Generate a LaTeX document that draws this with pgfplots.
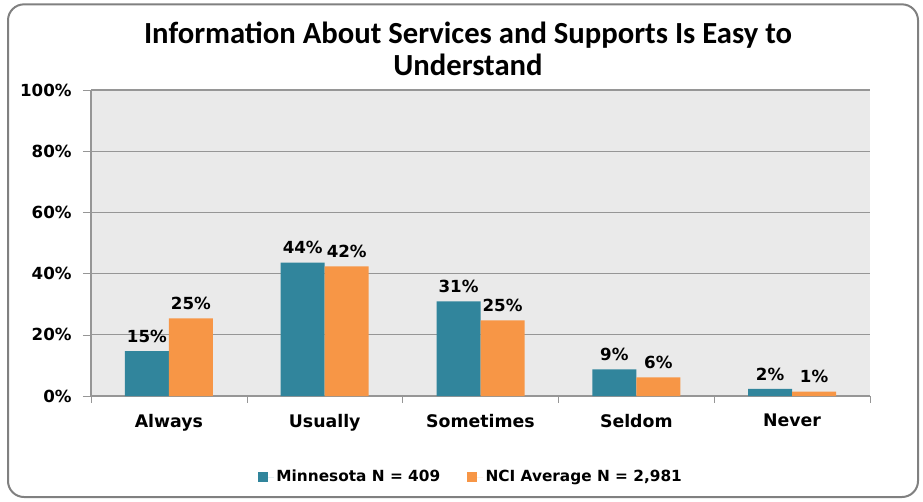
\documentclass[border=0pt]{standalone}
\usepackage{pgfplots}
\pgfplotsset{compat=1.18}
\usepackage{fontspec}
\setmainfont{DejaVu Sans}
\newfontfamily\titlefont{Carlito}
\definecolor{mnteal}{RGB}{49,133,156}
\definecolor{nciorange}{RGB}{247,150,70}
\definecolor{plotbg}{RGB}{234,234,234}
\definecolor{gridgray}{RGB}{150,150,150}

\begin{document}
\begin{tikzpicture}
  \useasboundingbox (0,0) rectangle (692.25pt,375.75pt);
  % outer frame
  \draw[draw=gray, line width=1.5pt, rounded corners=12pt] (6pt,3pt) rectangle (688.5pt,372.5pt);
  % title
  \node[align=center, font=\titlefont\bfseries\fontsize{23}{24}\selectfont]
    at (351pt,339pt) {Information About Services and Supports Is Easy to\\Understand};

  \begin{axis}[
    at={(68.25pt,78.75pt)}, anchor=south west,
    scale only axis,
    width=584.25pt, height=229.5pt,
    ybar=0pt,
    bar width=33pt,
    % x axis
    xmin=-0.5, xmax=4.5,
    xtick={0,1,2,3,4},
    xticklabels={Always, Usually, Sometimes, Seldom, Never},
    major x tick style={draw=none},
    minor xtick={-0.5,0.5,1.5,2.5,3.5,4.5},
    minor x tick style={draw=gridgray},
    minor tick length=5pt,
    xticklabel style={font=\bfseries\fontsize{13}{15}\selectfont, yshift=-4pt},
    % y axis
    ymin=0, ymax=100,
    ytick={0,20,40,60,80,100},
    yticklabel={\pgfmathprintnumber{\tick}\%},
    yticklabel style={font=\bfseries\fontsize{12.5}{15}\selectfont, xshift=-5pt},
    /pgf/number format/assume math mode=true,
    major y tick style={draw=gridgray},
    major tick length=6pt,
    tick align=outside,
    ymajorgrids,
    grid style={draw=gridgray, line width=0.8pt},
    axis x line*=bottom,
    axis y line*=left,
    axis line style={draw=gridgray, line width=0.8pt, -},
    axis background/.style={fill=plotbg},
    % labels on bars
    nodes near coords={\pgfmathprintnumber[fixed,precision=0]{\pgfplotspointmeta}\%},
    every node near coord/.append style={font=\bfseries\fontsize{12.5}{15}\selectfont, text=black, yshift=3pt},
    % legend
    legend columns=2,
    legend style={at={(0.488,-0.265)}, anchor=center, draw=none, fill=none,
      font=\bfseries\fontsize{11.5}{14}\selectfont,
      /tikz/every even column/.append style={column sep=18pt}},
    legend image code/.code={
      \path (0pt,0pt) rectangle (12pt,0pt);
      \fill[#1] (0pt,-3.75pt) rectangle (7.5pt,3.75pt);},
  ]
    % Minnesota
    \addplot[draw=none, fill=mnteal, bar shift=-16.5pt] coordinates {
      (0, 14.7)
      (1, 43.6)
      (2, 30.9)
      (3, 8.7)
      (4, 2.3)
    };
    % NCI Average
    \addplot[draw=none, fill=nciorange, bar shift=16.5pt] coordinates {
      (0, 25.4)
      (1, 42.4)
      (2, 24.7)
      (3, 6.1)
      (4, 1.4)
    };
    \legend{{Minnesota N = 409}, {NCI Average N = 2,981}}
  \end{axis}
\end{tikzpicture}
\end{document}
